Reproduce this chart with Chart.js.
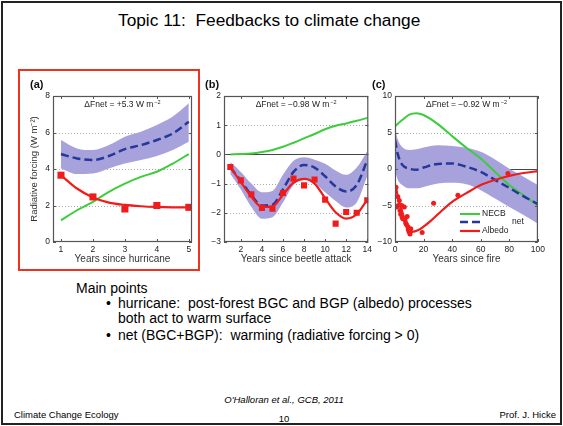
<!DOCTYPE html>
<html>
<head>
<meta charset="utf-8">
<script src="https://cdn.jsdelivr.net/npm/chart.js@4.4.1/dist/chart.umd.min.js"></script>
<style>
  body { margin: 0; width: 563px; height: 426px; background: #fff; position: relative; overflow: hidden;
         font-family: "Liberation Sans", Arial, sans-serif; }
  .frame { position: absolute; left: 1px; top: 1px; width: 557px; height: 420px; border: 2px solid #222; }
  .t { position: absolute; white-space: pre; line-height: 1; color: #000; }
  .redbox { position: absolute; left: 18px; top: 69px; width: 178px; height: 198px; border: 2px solid #f0321e; }
  canvas { position: absolute; }
</style>
</head>
<body>
<div class="frame"></div>
<div class="t" style="left:118px; top:12px; font-size:17.3px;">Topic 11:  Feedbacks to climate change</div>
<div class="redbox"></div>

<canvas id="chartA" width="176" height="191" style="left:22px; top:74px;"></canvas>
<canvas id="chartB" width="172" height="191" style="left:203px; top:74px;"></canvas>
<canvas id="chartC" width="180" height="191" style="left:368px; top:74px;"></canvas>

<div class="t" style="left:76px; top:281px; font-size:14px;">Main points</div>
<div class="t" style="left:106px; top:296px; font-size:14px;">•</div>
<div class="t" style="left:118px; top:296px; font-size:14px;">hurricane:  post-forest BGC and BGP (albedo) processes</div>
<div class="t" style="left:118px; top:311px; font-size:14px;">both act to warm surface</div>
<div class="t" style="left:106px; top:328px; font-size:14px;">•</div>
<div class="t" style="left:118px; top:328px; font-size:14px;">net (BGC+BGP):  warming (radiative forcing &gt; 0)</div>

<div class="t" style="left:184px; width:200px; text-align:center; top:395px; font-size:9.5px; font-style:italic;">O'Halloran et al., GCB, 2011</div>
<div class="t" style="left:14px; top:410px; font-size:9.5px;">Climate Change Ecology</div>
<div class="t" style="left:184px; width:200px; text-align:center; top:414px; font-size:9.5px;">10</div>
<div class="t" style="left:400px; width:156px; text-align:right; top:410px; font-size:9.5px;">Prof. J. Hicke</div>

<script>
// (a) years since hurricane
var yearsA = [1, 1.5, 2, 2.5, 3, 3.5, 4, 4.5, 5];
var netA   = [4.82, 4.58, 4.49, 4.71, 5.09, 5.31, 5.59, 5.95, 6.59];
var netHiA = [5.59, 5.13, 5.04, 5.31, 5.77, 6.04, 6.41, 6.87, 7.6];
var netLoA = [4.03, 3.72, 3.75, 4.03, 4.3, 4.49, 4.71, 5.04, 5.49];
var necbA  = [1.19, 1.74, 2.2, 2.75, 3.2, 3.57, 3.85, 4.3, 4.82];
var albedoA = [3.66, 2.93, 2.44, 2.16, 2.03, 1.96, 1.92, 1.9, 1.89];
var obsYearsA = [1, 2, 3, 4, 5];
var obsAlbedoA = [3.66, 2.47, 1.81, 2.0, 1.9];
var xTicksA = [1, 2, 3, 4, 5];
var yTicksA = [0, 2, 4, 6, 8];

// (b) years since beetle attack
var yearsB = [1, 2, 3, 4, 5, 6, 7, 8, 9, 10, 11, 12, 13, 14];
var netB   = [-0.45, -0.9, -1.4, -1.75, -1.72, -1.2, -0.6, -0.36, -0.45, -0.75, -1.1, -1.27, -1.05, -0.2];
var netHiB = [-0.26, -0.6, -1.0, -1.3, -1.25, -0.7, -0.22, -0.1, -0.18, -0.32, -0.55, -0.7, -0.45, 0.12];
var netLoB = [-0.66, -1.2, -1.8, -2.2, -2.15, -1.65, -1.05, -0.85, -1.0, -1.3, -1.6, -1.82, -1.65, -0.75];
var necbB  = [0.0, 0.01, 0.03, 0.08, 0.15, 0.26, 0.4, 0.55, 0.7, 0.86, 0.98, 1.06, 1.15, 1.25];
var albedoB = [-0.43, -0.95, -1.45, -1.8, -1.78, -1.38, -0.97, -0.84, -1.0, -1.5, -1.98, -2.2, -2.05, -1.55];
var obsAlbedoB = [-0.43, -0.89, -1.37, -1.83, -1.86, -1.32, -0.83, -1.06, -0.86, -1.55, -2.37, -1.97, -2.0, -1.57];
var xTicksB = [2, 4, 6, 8, 10, 12, 14];
var yTicksB = [-3, -2, -1, 0, 1, 2];

// (c) years since fire
var yearsC = [0, 2, 5, 10, 15, 20, 30, 40, 50, 60, 70, 80, 90, 100];
var necbC  = [5.8, 6.2, 6.7, 7.45, 7.65, 7.4, 6.15, 4.5, 2.9, 1.45, -0.4, -2.2, -3.6, -5.0];
var netC   = [4.0, 2.0, 0.6, 0.05, -0.1, 0.2, 0.7, 0.75, 0.3, -0.4, -1.5, -2.6, -3.75, -4.8];
var netHiC = [5.5, 4.0, 3.0, 2.6, 2.7, 2.95, 3.25, 3.15, 2.9, 2.35, 1.3, 0.05, -1.05, -2.2];
var netLoC = [-0.2, -1.5, -2.2, -2.65, -2.65, -2.45, -2.0, -1.9, -2.1, -2.9, -4.05, -5.2, -6.3, -7.5];
var albedoYearsC = [0.5, 2, 5, 8, 12, 16, 20, 25, 30, 40, 50, 60, 70, 80, 90, 100];
var albedoC = [-2.2, -3.8, -5.8, -7.7, -8.6, -8.4, -7.9, -7.1, -6.2, -4.5, -3.3, -2.2, -1.5, -0.95, -0.55, -0.3];
var obsYearsC = [0.7, 1.2, 2, 2.3, 3, 3.5, 4, 4.7, 5, 5.5, 6.5, 7, 7.5, 8, 8.5, 9, 9.3, 9.8, 10.5, 11, 19, 27, 44, 79];
var obsAlbedoC = [-2.5, -5.2, -3.8, -5.0, -4.3, -5.7, -6.2, -5.0, -6.6, -6.8, -5.2, -7.0, -7.4, -7.6, -6.5, -7.9, -8.3, -8.6, -8.9, -8.2, -8.7, -4.7, -3.6, -0.6];
var xTicksC = [0, 20, 40, 60, 80, 100];
var yTicksC = [-10, -5, 0, 5, 10];

var bandColor = "#a8a2dc";
var green = "#3ccc3c";
var blue = "#25379a";
var red = "#f01c1c";
var FONT = '"Liberation Sans", Arial, sans-serif';

Chart.defaults.font.family = FONT;
Chart.defaults.color = "#222";

function pts(xs, ys) {
  return xs.map(function (x, i) { return { x: x, y: ys[i] }; });
}
function minus(v) { return String(v).replace("-", "\u2212"); }

var panelDecor = {
  id: "panelDecor",
  beforeDatasetsDraw: function (chart, args, opts) {
    var ctx = chart.ctx, a = chart.chartArea, ys = chart.scales.y;
    ctx.save();
    ctx.lineWidth = 1;
    ys.ticks.forEach(function (t) {
      if (t.value <= ys.min || t.value >= ys.max) return;
      var py = Math.round(ys.getPixelForValue(t.value)) + 0.5;
      if (t.value === 0) { ctx.setLineDash([]); ctx.strokeStyle = "#444"; }
      else { ctx.setLineDash([1, 2]); ctx.strokeStyle = "#aaa"; }
      ctx.beginPath(); ctx.moveTo(a.left, py); ctx.lineTo(a.right, py); ctx.stroke();
    });
    ctx.restore();
  },
  afterDatasetsDraw: function (chart, args, opts) {
    var ctx = chart.ctx, a = chart.chartArea, xs = chart.scales.x, ys = chart.scales.y;
    ctx.save();
    // box and inward ticks
    ctx.strokeStyle = "#555";
    ctx.lineWidth = 1.2;
    ctx.strokeRect(a.left + 0.5, a.top + 0.5, a.width - 1, a.height - 1);
    ctx.lineWidth = 1;
    xs.ticks.forEach(function (t) {
      var px = Math.round(xs.getPixelForValue(t.value)) + 0.5;
      ctx.beginPath();
      ctx.moveTo(px, a.bottom); ctx.lineTo(px, a.bottom - 3);
      ctx.moveTo(px, a.top); ctx.lineTo(px, a.top + 3);
      ctx.stroke();
    });
    ys.ticks.forEach(function (t) {
      var py = Math.round(ys.getPixelForValue(t.value)) + 0.5;
      ctx.beginPath();
      ctx.moveTo(a.left, py); ctx.lineTo(a.left + 3, py);
      ctx.moveTo(a.right, py); ctx.lineTo(a.right - 3, py);
      ctx.stroke();
    });

    // delta F text
    ctx.fillStyle = "#222";
    ctx.textBaseline = "middle";
    ctx.textAlign = "left";
    ctx.font = "8.5px " + FONT;
    var main = "\u0394Fnet = " + opts.dF + " W m";
    var w1 = ctx.measureText(main).width;
    ctx.font = "5.5px " + FONT;
    var w2 = ctx.measureText("\u22122").width;
    var x0 = (a.left + a.right) / 2 - (w1 + w2 + 1) / 2;
    ctx.font = "8.5px " + FONT;
    ctx.fillText(main, x0, a.top + 9);
    ctx.font = "5.5px " + FONT;
    ctx.fillText("\u22122", x0 + w1 + 1, a.top + 6.5);

    // panel tag
    ctx.font = "bold 11px " + FONT;
    ctx.fillStyle = "#111";
    ctx.fillText(opts.tag, a.left + opts.tagDx, a.top - 11);

    // legend
    if (opts.legend) {
      ctx.font = "8.5px " + FONT;
      opts.legend.forEach(function (e) {
        var ds = chart.data.datasets[e.ds];
        var ly = a.top + e.dy;
        ctx.strokeStyle = ds.borderColor;
        ctx.lineWidth = ds.borderWidth;
        ctx.setLineDash(ds.borderDash || []);
        ctx.beginPath(); ctx.moveTo(a.left + 65, ly); ctx.lineTo(a.left + 85, ly); ctx.stroke();
        ctx.setLineDash([]);
        ctx.fillStyle = "#222";
        ctx.fillText(ds.label, a.left + e.tx, ly);
      });
    }
    ctx.restore();
  }
};

function makePanel(id, p) {
  var datasets = [
    { label: "hi", data: pts(p.bandX, p.hi), borderWidth: 0, pointRadius: 0, fill: "+1",
      backgroundColor: bandColor, cubicInterpolationMode: "monotone", order: 10 },
    { label: "lo", data: pts(p.bandX, p.lo), borderWidth: 0, pointRadius: 0, fill: false,
      cubicInterpolationMode: "monotone", order: 9 },
    { label: "NECB", data: pts(p.necbX, p.necb), borderColor: green, borderWidth: 2, pointRadius: 0,
      fill: false, cubicInterpolationMode: "monotone", order: 4 },
    { label: "net", data: pts(p.bandX, p.net), borderColor: blue, borderWidth: 2.5, borderDash: [8, 4],
      pointRadius: 0, fill: false, cubicInterpolationMode: "monotone", order: 3 },
    { label: "Albedo", data: pts(p.albX, p.alb), borderColor: red, borderWidth: 2.2, pointRadius: 0,
      fill: false, cubicInterpolationMode: "monotone", order: 2 },
    { label: "obs", data: pts(p.obsX, p.obs), showLine: false, pointStyle: p.obsStyle,
      pointRadius: p.obsR, backgroundColor: red, borderColor: red, borderWidth: 0, order: 1 }
  ];
  return new Chart(id, {
    type: "line",
    data: { datasets: datasets },
    options: {
      responsive: false,
      animation: false,
      devicePixelRatio: 1,
      layout: { padding: { top: 22, right: p.padRight, left: 0, bottom: 0 } },
      plugins: {
        legend: { display: false },
        tooltip: { enabled: false },
        panelDecor: { dF: p.dF, tag: p.tag, tagDx: p.tagDx, legend: p.legend }
      },
      scales: {
        x: {
          type: "linear", min: p.xMin, max: p.xMax,
          grid: { display: false, drawTicks: false }, border: { display: false },
          afterBuildTicks: function (s) { s.ticks = p.xTicks.map(function (v) { return { value: v }; }); },
          afterFit: function (s) { s.height = 23; },
          ticks: { font: { size: 8.5 }, padding: 3, maxRotation: 0, callback: minus },
          title: { display: true, text: p.xTitle, font: { size: 10 }, color: "#333", padding: 0 }
        },
        y: {
          type: "linear", min: p.yMin, max: p.yMax,
          grid: { display: false, drawTicks: false }, border: { display: false },
          afterBuildTicks: function (s) { s.ticks = p.yTicks.map(function (v) { return { value: v }; }); },
          afterFit: function (s) { s.width = p.yWidth; },
          ticks: { font: { size: 8.5 }, padding: 3, callback: minus },
          title: { display: !!p.yTitle, text: p.yTitle || "", font: { size: 9.5 }, color: "#333",
                   padding: { top: 7, bottom: 0 } }
        }
      }
    },
    plugins: [panelDecor]
  });
}

makePanel("chartA", {
  bandX: yearsA, hi: netHiA, lo: netLoA, net: netA,
  necbX: yearsA, necb: necbA, albX: yearsA, alb: albedoA,
  obsX: obsYearsA, obs: obsAlbedoA, obsStyle: "rect", obsR: 5,
  xMin: 0.75, xMax: 5.1, yMin: 0, yMax: 8, xTicks: xTicksA, yTicks: yTicksA,
  xTitle: "Years since hurricane", yTitle: "Radiative forcing (W m\u207B\u00B2)",
  yWidth: 31, padRight: 6, dF: "+5.3", tag: "(a)", tagDx: -23
});

makePanel("chartB", {
  bandX: yearsB, hi: netHiB, lo: netLoB, net: netB,
  necbX: yearsB, necb: necbB, albX: yearsB, alb: albedoB,
  obsX: yearsB, obs: obsAlbedoB, obsStyle: "rect", obsR: 4.3,
  xMin: 0.4, xMax: 14.1, yMin: -3, yMax: 2, xTicks: xTicksB, yTicks: yTicksB,
  xTitle: "Years since beetle attack",
  yWidth: 21, padRight: 5, dF: "\u22120.98", tag: "(b)", tagDx: -19
});

makePanel("chartC", {
  bandX: yearsC, hi: netHiC, lo: netLoC, net: netC,
  necbX: yearsC, necb: necbC, albX: albedoYearsC, alb: albedoC,
  obsX: obsYearsC, obs: obsAlbedoC, obsStyle: "circle", obsR: 2.5,
  xMin: 0, xMax: 100, yMin: -10, yMax: 10, xTicks: xTicksC, yTicks: yTicksC,
  xTitle: "Years since fire",
  yWidth: 27, padRight: 10, dF: "\u22120.92", tag: "(c)", tagDx: -23,
  legend: [{ ds: 2, dy: 118, tx: 87 }, { ds: 3, dy: 126, tx: 117 }, { ds: 4, dy: 135, tx: 87 }]
});
</script>
</body>
</html>
